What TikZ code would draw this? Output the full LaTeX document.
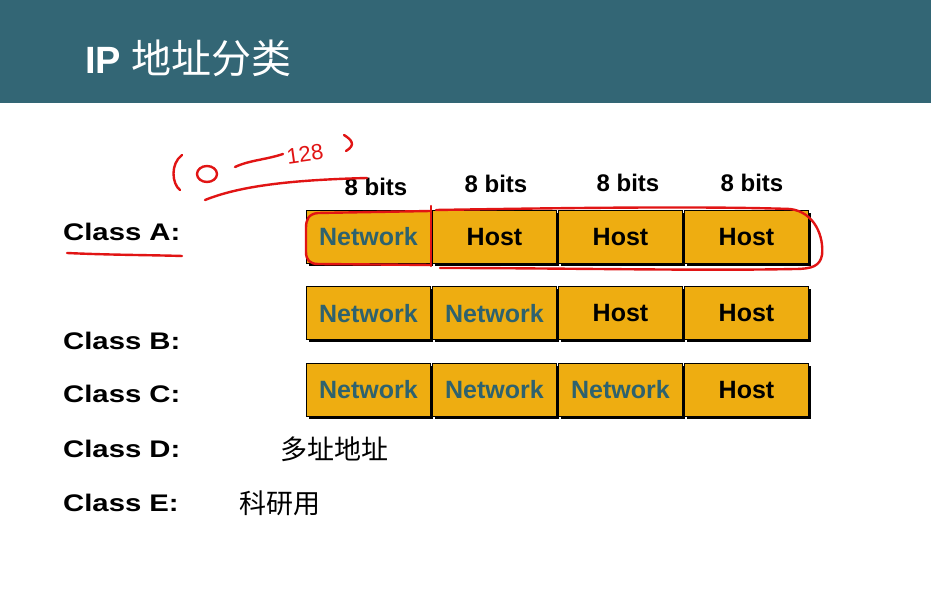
\documentclass[tikz,border=0pt]{standalone}
\usepackage{fontspec}
\setmainfont{Liberation Sans}
\newfontfamily\cjk{Noto Sans CJK SC}
\newfontfamily\wide[FakeStretch=1.22]{Liberation Sans}
\usetikzlibrary{positioning,shadows}
\definecolor{band}{RGB}{51,102,117}
\definecolor{gold}{RGB}{238,173,17}
\definecolor{nettext}{RGB}{46,98,110}
\definecolor{pen}{RGB}{225,20,20}
\tikzstyle{field}=[draw=black,line width=1pt,fill=gold,minimum width=124,
minimum height=53,inner sep=0,font=\fontsize{25}{30}\selectfont\bfseries,
drop shadow={shadow xshift=2.5pt,shadow yshift=-2.5pt,fill=black,opacity=1}]
\tikzstyle{net}=[field,text=nettext]
\tikzstyle{host}=[field,text=black]
\tikzstyle{classlabel}=[anchor=west,inner sep=0,font=\wide\fontsize{24}{28}\selectfont\bfseries]
\tikzstyle{bits}=[inner sep=0,font=\fontsize{24}{28}\selectfont\bfseries]
\tikzstyle{note}=[inner sep=0,font=\cjk\fontsize{27}{30}\selectfont]
\tikzstyle{ink}=[pen,line width=2.4pt,line cap=round,line join=round]

\begin{document}
\begin{tikzpicture}[x=1pt,y=1pt]

	\useasboundingbox[fill=white] (0,0) rectangle (931,612);

	%title band
	\fill[band] (0,509) rectangle (931,612);
	\node[anchor=west,inner sep=0,text=white] (title) at (85,554)
	{\fontsize{38}{44}\selectfont\bfseries IP \mdseries\cjk\fontsize{40}{44}\selectfont 地址分类};

	%class A
	\node[net] (a1) at (368.5,375) {Network};
	\node[host,right=1pt of a1] (a2) {Host};
	\node[host,right=1pt of a2] (a3) {Host};
	\node[host,right=1pt of a3] (a4) {Host};

	%class B
	\node[net] (b1) at (368.5,298.5) {Network};
	\node[net,right=1pt of b1] (b2) {Network};
	\node[host,right=1pt of b2] (b3) {Host};
	\node[host,right=1pt of b3] (b4) {Host};

	%class C
	\node[net] (c1) at (368.5,222) {Network};
	\node[net,right=1pt of c1] (c2) {Network};
	\node[net,right=1pt of c2] (c3) {Network};
	\node[host,right=1pt of c3] (c4) {Host};

	%byte widths
	\node[bits] (bits1) at (376,425) {8 bits};
	\node[bits] (bits2) at (496,428) {8 bits};
	\node[bits] (bits3) at (628,429) {8 bits};
	\node[bits] (bits4) at (752,429) {8 bits};

	%class names
	\node[classlabel] (classA) at (63,380) {Class A:};
	\node[classlabel] (classB) at (63,271) {Class B:};
	\node[classlabel] (classC) at (63,218) {Class C:};
	\node[classlabel] (classD) at (63,163) {Class D:};
	\node[classlabel] (classE) at (63,109) {Class E:};
	\node[note] (multi) at (334,163) {多址地址};
	\node[note] (research) at (280,109) {科研用};

	%red pen marks
	\draw[ink] (67,359) .. controls (110,357) and (150,357) .. (182,356);
	\draw[ink] (431,401) -- (318,399) .. controls (308,398) and (306,392) .. (306,384)
	-- (306,360) .. controls (306,352) and (310,348) .. (318,348) -- (431,347);
	\draw[ink] (431,406) -- (431,346);
	\draw[ink] (436,402) .. controls (560,404) and (700,406) .. (790,403)
	.. controls (815,400) and (824,375) .. (822,357)
	.. controls (820,346) and (812,343) .. (795,343)
	.. controls (700,341) and (560,344) .. (440,344);
	\draw[ink] (182,457) .. controls (170,448) and (172,428) .. (180,422);
	\draw[ink] (207,438) ellipse (10 and 8);
	\draw[ink] (235,445) .. controls (250,452) and (265,452) .. (283,458);
	\node[text=pen,rotate=8,inner sep=0,font=\fontsize{22}{24}\selectfont] (mark) at (305,458) {128};
	\draw[ink] (344,477) .. controls (352,472) and (356,467) .. (346,461);
	\draw[ink] (205,412) .. controls (240,426) and (290,432) .. (367,434);

\end{tikzpicture}
\end{document}
